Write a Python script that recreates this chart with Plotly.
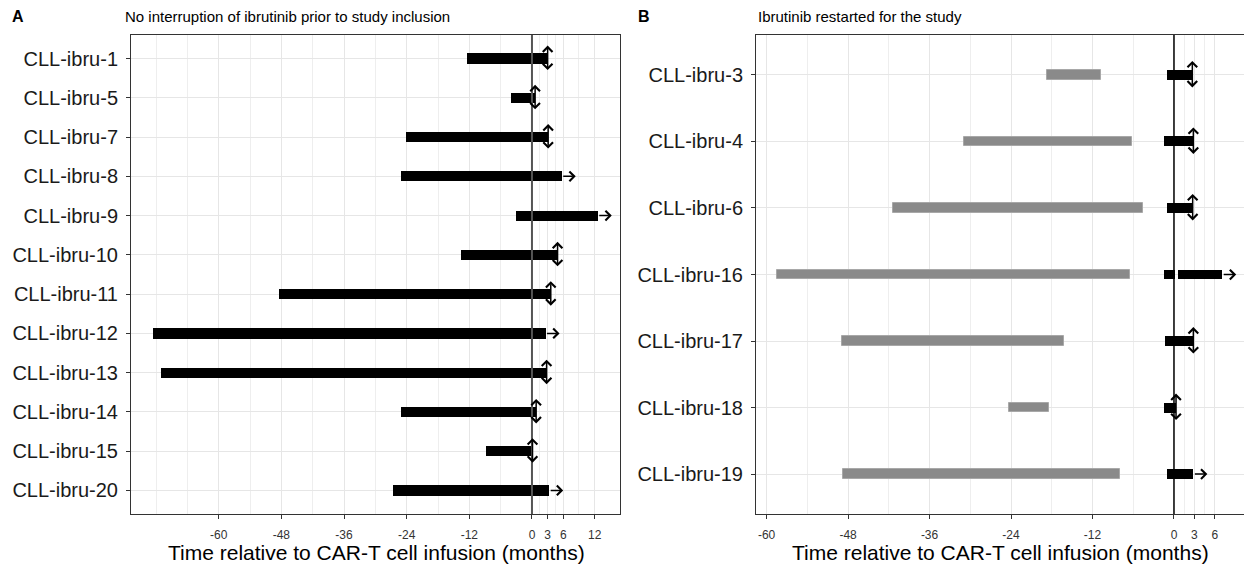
import plotly.graph_objects as go

# ---------------- data ----------------
# Panel A: no interruption of ibrutinib prior to study inclusion
a_patients = ["CLL-ibru-1", "CLL-ibru-5", "CLL-ibru-7", "CLL-ibru-8", "CLL-ibru-9", "CLL-ibru-10",
              "CLL-ibru-11", "CLL-ibru-12", "CLL-ibru-13", "CLL-ibru-14", "CLL-ibru-15", "CLL-ibru-20"]
a_start = [-12.5, -4.0, -24.2, -25.0, -3.1, -13.5, -48.5, -72.6, -71.1, -25.1, -8.8, -26.6]
a_end = [3.0, 0.6, 3.1, 5.7, 12.6, 4.9, 3.6, 2.6, 2.8, 0.8, 0.1, 3.3]
a_arrow = ["updown", "updown", "updown", "right", "right", "updown",
           "updown", "right", "updown", "updown", "updown", "right"]

# Panel B: ibrutinib restarted for the study
b_patients = ["CLL-ibru-3", "CLL-ibru-4", "CLL-ibru-6", "CLL-ibru-16", "CLL-ibru-17", "CLL-ibru-18", "CLL-ibru-19"]
b_prior_start = [-18.7, -30.9, -41.4, -58.4, -48.9, -24.3, -48.7]
b_prior_end = [-10.8, -6.2, -4.6, -6.5, -16.2, -18.4, -7.9]
b_study_patient = ["CLL-ibru-3", "CLL-ibru-4", "CLL-ibru-6", "CLL-ibru-16", "CLL-ibru-16",
                   "CLL-ibru-17", "CLL-ibru-18", "CLL-ibru-19"]
b_study_start = [-1.1, -1.5, -1.0, -1.5, 0.6, -1.3, -1.5, -1.0]
b_study_end = [2.7, 2.85, 2.75, 0.15, 7.1, 2.85, 0.3, 2.85]
b_arrow = ["updown", "updown", "updown", "right", "updown", "updown", "right"]

a_ticks = [-60, -48, -36, -24, -12, 0, 3, 6, 12]
a_minor = [-72, -66, -54, -42, -30, -18, -6, 1.5, 4.5, 9]
b_ticks = [-60, -48, -36, -24, -12, 0, 3, 6]
b_minor = [-54, -42, -30, -18, -6, 1.5, 4.5]

# ---------------- figure ----------------
W, H = 1244, 565
FONT = "Liberation Sans, Arial, sans-serif"
GRID = "#e6e6e6"
BORDER = "#333333"

fig = go.Figure()

a_idx = {p: i for i, p in enumerate(a_patients)}
b_idx = {p: i for i, p in enumerate(b_patients)}

# reference lines at time 0 (CAR-T infusion)
fig.add_trace(go.Scatter(x=[0, 0], y=[-0.6, len(a_patients) - 0.4], mode="lines",
                         line=dict(color="#555555", width=2), xaxis="x", yaxis="y",
                         showlegend=False, hoverinfo="skip"))
fig.add_trace(go.Scatter(x=[0, 0], y=[-0.6, len(b_patients) - 0.4], mode="lines",
                         line=dict(color="black", width=1.5), xaxis="x2", yaxis="y2",
                         showlegend=False, hoverinfo="skip"))

fig.add_trace(go.Bar(
    orientation="h", y=[a_idx[p] for p in a_patients],
    base=a_start, x=[e - s for s, e in zip(a_start, a_end)],
    width=0.26, marker=dict(color="black", line=dict(width=0)),
    xaxis="x", yaxis="y", showlegend=False, hoverinfo="skip"))

fig.add_trace(go.Bar(
    orientation="h", y=[b_idx[p] for p in b_patients],
    base=b_prior_start, x=[e - s for s, e in zip(b_prior_start, b_prior_end)],
    width=0.14, marker=dict(color="#8a8a8a", line=dict(width=1, color="#a8a8a8")),
    xaxis="x2", yaxis="y2", showlegend=False, hoverinfo="skip"))

fig.add_trace(go.Bar(
    orientation="h", y=[b_idx[p] for p in b_study_patient],
    base=b_study_start, x=[e - s for s, e in zip(b_study_start, b_study_end)],
    width=0.15, marker=dict(color="black", line=dict(width=0)),
    xaxis="x2", yaxis="y2", showlegend=False, hoverinfo="skip"))

annotations = []


def add_arrow(xref, yref, x, y, kind, half):
    common = dict(xref=xref, yref=yref, x=x, y=y, text="", showarrow=True,
                  arrowhead=4, startarrowhead=4, arrowsize=1.25, startarrowsize=1.25,
                  arrowwidth=1.5, arrowcolor="black", standoff=0, startstandoff=0)
    if kind == "updown":
        annotations.append(dict(common, ax=0, ay=2 * half, yshift=half, arrowside="end+start"))
    else:
        annotations.append(dict(common, ax=-14, ay=0, xshift=14, arrowside="end"))


for p, e, k in zip(a_patients, a_end, a_arrow):
    add_arrow("x", "y", e, a_idx[p], k, 13)

for p, k in zip(b_patients, b_arrow):
    ends = [e for q, e in zip(b_study_patient, b_study_end) if q == p]
    add_arrow("x2", "y2", max(ends), b_idx[p], k, 14)


def px_x(v):
    return v / W


def px_y(v):
    return 1 - v / H


annotations += [
    dict(xref="paper", yref="paper", x=px_x(10), y=px_y(17), text="<b>A</b>", showarrow=False,
         xanchor="left", yanchor="middle", font=dict(family=FONT, size=16, color="black")),
    dict(xref="paper", yref="paper", x=px_x(123), y=px_y(17),
         text="No interruption of ibrutinib prior to study inclusion", showarrow=False,
         xanchor="left", yanchor="middle", font=dict(family=FONT, size=15, color="black")),
    dict(xref="paper", yref="paper", x=px_x(636), y=px_y(17), text="<b>B</b>", showarrow=False,
         xanchor="left", yanchor="middle", font=dict(family=FONT, size=16, color="black")),
    dict(xref="paper", yref="paper", x=px_x(756), y=px_y(17),
         text="Ibrutinib restarted for the study", showarrow=False,
         xanchor="left", yanchor="middle", font=dict(family=FONT, size=15, color="black")),
    dict(xref="paper", yref="paper", x=px_x(376), y=px_y(552),
         text="Time relative to CAR-T cell infusion (months)", showarrow=False,
         xanchor="center", yanchor="middle", font=dict(family=FONT, size=21, color="black")),
    dict(xref="paper", yref="paper", x=px_x(1000), y=px_y(552),
         text="Time relative to CAR-T cell infusion (months)", showarrow=False,
         xanchor="center", yanchor="middle", font=dict(family=FONT, size=21, color="black")),
]

y_dom = [1 - 514 / H, 1 - 35 / H]


def xaxis_cfg(domain, rng, ticks, minor, anchor):
    return dict(domain=domain, range=rng, anchor=anchor, tickmode="array", tickvals=ticks,
                ticktext=[str(t) for t in ticks], showgrid=True, gridcolor=GRID, gridwidth=1.2,
                zeroline=False, showline=True, linecolor=BORDER, linewidth=1, mirror=True,
                ticks="outside", ticklen=4, tickcolor=BORDER, tickwidth=1,
                ticklabelstandoff=6,
                tickfont=dict(family=FONT, size=12, color="#333333"),
                minor=dict(tickvals=minor, showgrid=True, gridcolor="#eeeeee", gridwidth=1, ticks=""))


def yaxis_cfg(domain, labels, anchor):
    n = len(labels)
    return dict(domain=domain, range=[n - 0.4, -0.6], anchor=anchor, tickmode="array",
                tickvals=list(range(n)), ticktext=labels, showgrid=True, gridcolor=GRID, gridwidth=1.2,
                zeroline=False, showline=True, linecolor=BORDER, linewidth=1, mirror=True,
                ticks="outside", ticklen=4, tickcolor=BORDER, tickwidth=1,
                ticklabelstandoff=4,
                tickfont=dict(family=FONT, size=20, color="#1a1a1a"))


fig.update_layout(
    width=W, height=H, margin=dict(l=0, r=0, t=0, b=0, autoexpand=False),
    paper_bgcolor="white", plot_bgcolor="white", barmode="overlay", bargap=0,
    xaxis=xaxis_cfg([131 / W, 620 / W], [-76.8, 16.86], a_ticks, a_minor, "y"),
    yaxis=yaxis_cfg(y_dom, a_patients, "x"),
    xaxis2=xaxis_cfg([756 / W, 1.0], [-61.56, 10.31], b_ticks, b_minor, "y2"),
    yaxis2=yaxis_cfg(y_dom, b_patients, "x2"),
    annotations=annotations,
    font=dict(family=FONT),
)

fig.write_html("out.html")
